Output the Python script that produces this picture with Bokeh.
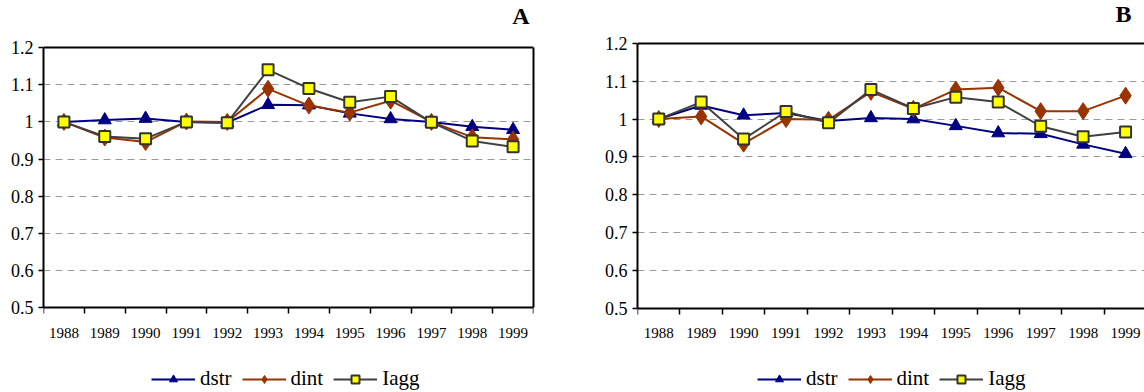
import numpy as np
from bokeh.plotting import figure
from bokeh.models import Range1d, FixedTicker, Span, LinearAxis, Label
from bokeh.layouts import row
from bokeh.embed import file_html
from bokeh.resources import INLINE

years = ["1988", "1989", "1990", "1991", "1992", "1993",
         "1994", "1995", "1996", "1997", "1998", "1999"]
y_ticks = [0.5, 0.6, 0.7, 0.8, 0.9, 1.0, 1.1, 1.2]
y_tick_labels = ["0.5", "0.6", "0.7", "0.8", "0.9", "1", "1.1", "1.2"]
grid_ticks = [0.6, 0.7, 0.8, 0.9, 1.0, 1.1]
series_names = ["dstr", "dint", "Iagg"]
panel_titles = ["A", "B"]

a_dstr = [1.000, 1.005, 1.009, 1.000, 0.998, 1.046, 1.045, 1.023, 1.008, 1.000, 0.987, 0.979]
a_dint = [1.000, 0.958, 0.946, 1.001, 1.000, 1.089, 1.044, 1.025, 1.057, 1.000, 0.959, 0.953]
a_iagg = [1.000, 0.961, 0.955, 1.000, 0.998, 1.140, 1.090, 1.053, 1.068, 0.999, 0.949, 0.933]

b_dstr = [1.000, 1.036, 1.010, 1.016, 0.995, 1.003, 1.000, 0.982, 0.963, 0.961, 0.933, 0.908]
b_dint = [1.000, 1.007, 0.935, 1.000, 0.998, 1.072, 1.027, 1.078, 1.083, 1.021, 1.021, 1.062]
b_iagg = [1.000, 1.045, 0.947, 1.020, 0.990, 1.078, 1.028, 1.058, 1.045, 0.981, 0.953, 0.966]

FONT = "Liberation Serif"
COLORS = ["#000080", "#993300", "#404040"]
Y_MIN, Y_MAX = y_ticks[0], y_ticks[-1]
H = 392


def make_panel(title, series, width, b_left, b_right, x_end,
               y_floor, y_ceil, legend_xy, title_xy, full_box):
    x = np.arange(len(years)) + 0.5
    # the frame fills the whole canvas height so that the panel letter above
    # and the legend below lie inside it; axes are pinned to the chart range
    p = figure(width=width, height=H, output_backend="svg", toolbar_location=None,
               title_location=None,
               x_range=Range1d(0, x_end), y_range=Range1d(y_floor, y_ceil),
               min_border_left=b_left, min_border_right=b_right,
               min_border_top=0, min_border_bottom=0,
               background_fill_color="white", border_fill_color="white")
    p.outline_line_color = None
    p.add_layout(Span(location=Y_MAX, dimension="width",
                      line_color="black", line_width=2))
    if full_box:
        ra = LinearAxis(bounds=(Y_MIN, Y_MAX), ticker=FixedTicker(ticks=[]),
                        major_label_text_font_size="0px",
                        major_tick_line_color=None, minor_tick_line_color=None,
                        axis_line_width=2, axis_line_color="black")
        p.add_layout(ra, "right")

    p.add_layout(Label(x=title_xy[0], y=title_xy[1], x_units="screen", y_units="screen",
                       text=title, text_align="right", text_baseline="alphabetic",
                       text_font=FONT, text_font_size="24px", text_font_style="bold",
                       text_color="black"))

    # x axis: ticks between categories, labels at category centres
    xa = p.xaxis[0]
    xa.fixed_location = Y_MIN
    xa.ticker = FixedTicker(ticks=list(x), minor_ticks=list(range(len(years) + 1)))
    xa.major_label_overrides = {float(xi): yr for xi, yr in zip(x, years)}
    xa.major_tick_line_color = None
    xa.major_tick_out = 0
    xa.major_tick_in = 0
    xa.minor_tick_line_color = "black"
    xa.minor_tick_line_width = 1.5
    xa.minor_tick_out = 6
    xa.minor_tick_in = 0
    xa.axis_line_width = 2
    xa.axis_line_color = "black"
    xa.major_label_text_font = FONT
    xa.major_label_text_font_size = "15px"
    xa.major_label_text_color = "black"
    xa.major_label_standoff = 14

    ya = p.yaxis[0]
    ya.bounds = (Y_MIN, Y_MAX)
    ya.ticker = FixedTicker(ticks=y_ticks)
    ya.major_label_overrides = {t: l for t, l in zip(y_ticks, y_tick_labels)}
    ya.major_tick_out = 5
    ya.major_tick_in = 0
    ya.major_tick_line_width = 1.5
    ya.minor_tick_line_color = None
    ya.axis_line_width = 2
    ya.axis_line_color = "black"
    ya.major_label_text_font = FONT
    ya.major_label_text_font_size = "18px"
    ya.major_label_text_color = "black"
    ya.major_label_standoff = 5

    p.xgrid.grid_line_color = None
    p.ygrid.ticker = FixedTicker(ticks=grid_ticks)
    p.ygrid.grid_line_color = "#9a9a9a"
    p.ygrid.grid_line_dash = "7 5"
    p.ygrid.grid_line_width = 1

    dstr, dint, iagg = series
    p.line(x, dstr, line_color=COLORS[0], line_width=2, legend_label=series_names[0])
    p.scatter(x, dstr, marker="triangle", size=13, fill_color=COLORS[0],
              line_color=COLORS[0], legend_label=series_names[0])
    p.line(x, dint, line_color=COLORS[1], line_width=2, legend_label=series_names[1])
    p.scatter(x, dint, marker="diamond", size=17, fill_color=COLORS[1],
              line_color=COLORS[1], legend_label=series_names[1])
    p.line(x, iagg, line_color=COLORS[2], line_width=2, legend_label=series_names[2])
    p.scatter(x, iagg, marker="square", size=11, fill_color="#ffff00",
              line_color="#333333", line_width=2, legend_label=series_names[2])

    lg = p.legend[0]
    lg.location = legend_xy
    lg.orientation = "horizontal"
    lg.border_line_color = None
    lg.background_fill_alpha = 0
    lg.padding = 2
    lg.margin = 0
    lg.spacing = 10
    lg.glyph_width = 44
    lg.glyph_height = 20
    lg.label_standoff = 5
    lg.label_text_font = FONT
    lg.label_text_font_size = "21px"
    lg.label_text_color = "black"
    return p


pA = make_panel(panel_titles[0], (a_dstr, a_dint, a_iagg), width=580,
                b_left=43, b_right=47, x_end=12, y_floor=0.2729, y_ceil=1.3263,
                legend_xy=(108, 1), title_xy=(486, H - 15), full_box=True)
pB = make_panel(panel_titles[1], (b_dstr, b_dint, b_iagg), width=564,
                b_left=57, b_right=0, x_end=11.946, y_floor=0.2764, y_ceil=1.3138,
                legend_xy=(120, 1), title_xy=(494, H - 13), full_box=False)

layout = row(pA, pB, spacing=0)
open("out.html", "w").write(file_html(layout, INLINE))
